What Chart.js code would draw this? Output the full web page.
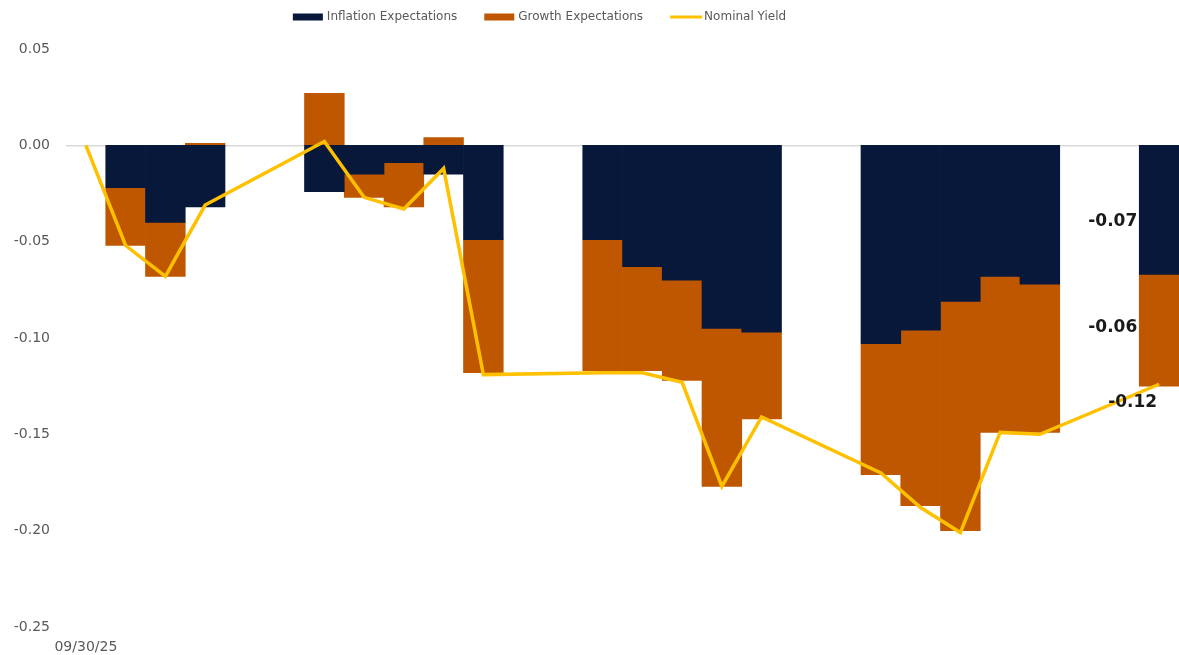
<!DOCTYPE html>
<html><head><meta charset="utf-8">
<script src="https://cdn.jsdelivr.net/npm/chart.js@4.4.1/dist/chart.umd.min.js"></script>
<style>html,body{margin:0;padding:0;background:#fff;overflow:hidden}</style>
</head><body>
<canvas id="c" width="1179" height="655"></canvas>
<script>
const dates = ["09/30/25","10/01/25","10/02/25","10/03/25","10/04/25","10/05/25","10/06/25","10/07/25","10/08/25","10/09/25","10/10/25","10/11/25","10/12/25","10/13/25","10/14/25","10/15/25","10/16/25","10/17/25","10/18/25","10/19/25","10/20/25","10/21/25","10/22/25","10/23/25","10/24/25","10/25/25","10/26/25","10/27/25"];
const inflationExpectations = [null,-0.022,-0.040,-0.032,null,null,-0.024,-0.015,-0.009,-0.015,-0.049,null,null,-0.049,-0.063,-0.070,-0.095,-0.097,null,null,-0.103,-0.096,-0.081,-0.068,-0.072,null,null,-0.067];
const growthExpectations = [null,-0.030,-0.028,0.001,null,null,0.027,-0.012,-0.023,0.004,-0.069,null,null,-0.068,-0.054,-0.052,-0.082,-0.045,null,null,-0.068,-0.091,-0.119,-0.081,-0.077,null,null,-0.058];
const nominalYield = [0.000,-0.052,-0.068,-0.031,null,null,0.002,-0.027,-0.033,-0.012,-0.119,null,null,-0.118,-0.118,-0.123,-0.177,-0.141,null,null,-0.170,-0.188,-0.201,-0.149,-0.150,null,null,-0.124];
const yTickValues = [0.05,0.00,-0.05,-0.10,-0.15,-0.20,-0.25];

const NAVY = '#07183A', ORANGE = '#BF5700', GOLD = '#FFC000', GREY = '#595959';

const FONT = '"DejaVu Sans", sans-serif';
const LEGEND_SIZE = 12;
const TICK_SIZE = 14;
const LABEL_SIZE = 17;

const legendPlugin = {
  id: 'customLegend',
  afterDraw(chart) {
    const ctx = chart.ctx;
    ctx.save();
    ctx.font = LEGEND_SIZE + 'px ' + FONT;
    ctx.textBaseline = 'middle';
    const items = chart.data.datasets.map(ds => ({
      label: ds.label,
      color: ds.type === 'line' ? ds.borderColor : ds.backgroundColor,
      line: ds.type === 'line'
    }));
    const boxW = 30, gap = 4, itemGap = 27;
    let total = 0;
    items.forEach((it, i) => {
      it.w = boxW + gap + ctx.measureText(it.label).width;
      total += it.w + (i ? itemGap : 0);
    });
    let x = chart.width / 2 - 50 - total / 2;
    const y = 17;
    items.forEach(it => {
      ctx.fillStyle = it.color;
      if (it.line) ctx.fillRect(x, y - 1.5, boxW + 2, 3);
      else ctx.fillRect(x, y - 3.5, boxW, 7);
      ctx.fillStyle = GREY;
      ctx.textAlign = 'left';
      ctx.fillText(it.label, x + boxW + gap, y);
      x += it.w + itemGap;
    });
    ctx.restore();
  }
};

const labelPlugin = {
  id: 'endLabels',
  afterDatasetsDraw(chart) {
    const ctx = chart.ctx;
    const last = dates.length - 1;
    ctx.save();
    ctx.font = 'bold ' + LABEL_SIZE + 'px ' + FONT;
    ctx.fillStyle = '#1a1a1a';
    ctx.textAlign = 'right';
    ctx.textBaseline = 'middle';
    const offs = [12, -3];
    [0, 1].forEach((di, k) => {
      const bar = chart.getDatasetMeta(di).data[last];
      const p = bar.getProps(['x', 'y', 'base', 'width'], true);
      const mid = (p.y + p.base) / 2 + offs[k];
      ctx.fillText(chart.data.datasets[di].data[last].toFixed(2), p.x - p.width / 2 - 2, mid);
    });
    const pt = chart.getDatasetMeta(2).data[last];
    ctx.fillText(nominalYield[last].toFixed(2), pt.x - 2, pt.y + 18);
    ctx.restore();
  }
};

new Chart(document.getElementById('c'), {
  type: 'bar',
  data: {
    labels: dates,
    datasets: [
      { label: 'Inflation Expectations', data: inflationExpectations, backgroundColor: NAVY, stack: 'exp', order: 1,
        barPercentage: 1, categoryPercentage: 1, borderWidth: 0 },
      { label: 'Growth Expectations', data: growthExpectations, backgroundColor: ORANGE, stack: 'exp', order: 1,
        barPercentage: 1, categoryPercentage: 1, borderWidth: 0 },
      { type: 'line', label: 'Nominal Yield', data: nominalYield, borderColor: GOLD, backgroundColor: GOLD,
        borderWidth: 3.5, pointRadius: 0, spanGaps: true, tension: 0, fill: false, stack: 'yield', order: 0 }
    ]
  },
  options: {
    responsive: false,
    animation: false,
    devicePixelRatio: 1,
    layout: { padding: { top: 49, left: 0, right: 0, bottom: 0 } },
    plugins: { legend: { display: false }, tooltip: { enabled: false } },
    scales: {
      x: {
        stacked: true,
        offset: true,
        grid: { display: false, drawTicks: false },
        border: { display: false },
        afterFit: s => { s.height = 28; },
        ticks: {
          autoSkip: false, maxRotation: 0, minRotation: 0, padding: 12, color: GREY,
          font: { family: FONT, size: TICK_SIZE },
          callback: (v, i) => i === 0 ? dates[i] : ''
        }
      },
      y: {
        stacked: true,
        min: Math.min(...yTickValues),
        max: Math.max(...yTickValues),
        border: { display: false },
        afterFit: s => { s.width = 66; },
        grid: {
          drawTicks: false,
          lineWidth: 1.5,
          color: ctx => (ctx.tick && Math.abs(ctx.tick.value) < 1e-9) ? '#d9d9d9' : 'rgba(0,0,0,0)'
        },
        ticks: {
          stepSize: 0.05, padding: 16, color: GREY,
          font: { family: FONT, size: TICK_SIZE },
          callback: v => Math.abs(v) < 1e-9 ? '0.00' : Number(v).toFixed(2)
        }
      }
    }
  },
  plugins: [legendPlugin, labelPlugin]
});
</script>
</body></html>
